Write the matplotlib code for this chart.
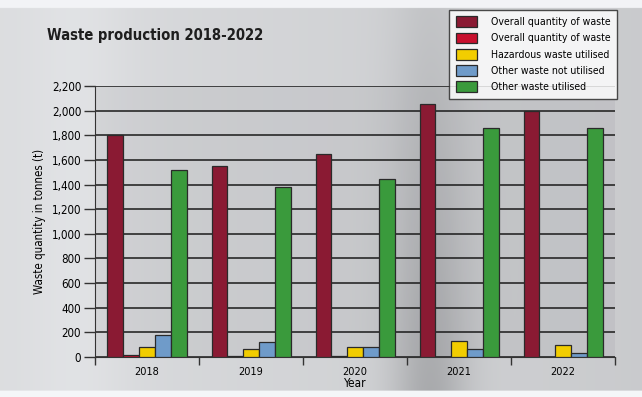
import numpy as np
import matplotlib.pyplot as plt
from matplotlib.ticker import FuncFormatter, FixedLocator

plt.rcParams['font.family'] = ['DejaVu Sans']
plt.rcParams['font.stretch'] = 'condensed'

years = ['2018', '2019', '2020', '2021', '2022']
series_names = ['Overall quantity of waste', 'Overall quantity of waste',
                'Hazardous waste utilised', 'Other waste not utilised',
                'Other waste utilised']
overall = [1800, 1550, 1650, 2050, 2000]
overall_other = [15, 12, 5, 3, 2]
hazardous_utilised = [85, 68, 82, 128, 100]
other_not_utilised = [180, 123, 82, 66, 35]
other_utilised = [1520, 1380, 1445, 1860, 1860]
colors = ['#8a1a33', '#c8102e', '#f2cd00', '#6f9bc9', '#3a9a3c']

fig = plt.figure(figsize=(6.42, 3.97), dpi=100)

# metallic backdrop: horizontal shading with a darker band in the middle
bg = fig.add_axes([0, 0, 1, 1], zorder=-10)
xs = np.linspace(0, 1, 400)
ys = np.linspace(0, 1, 250)
X, Y = np.meshgrid(xs, ys)
shade = 0.86 - 0.07 * X - 0.15 * np.exp(-((X - 0.67) / 0.06) ** 2) * (0.3 + 0.7 * Y)
shade += 0.03 * np.exp(-((X - 0.12) / 0.08) ** 2)
shade[ys > 0.985, :] = 0.96
shade[ys < 0.02, :] = 0.95
img = np.dstack([shade, shade + 0.005, shade + 0.015])
bg.imshow(np.clip(img, 0, 1), aspect='auto', extent=[0, 1, 0, 1], origin='upper')
bg.set_axis_off()

ax = fig.add_axes([0.148, 0.1008, 0.81, 0.6826])
ax.set_facecolor((0.5, 0.5, 0.52, 0.12))

data = [overall, overall_other, hazardous_utilised, other_not_utilised, other_utilised]
x = np.arange(len(years))
w = 0.152
for i, (vals, name, c) in enumerate(zip(data, series_names, colors)):
    ax.bar(x + (i - 2) * w, vals, width=w, color=c, edgecolor='#2a2a2a',
           linewidth=0.9, label=name, zorder=3)

ax.set_xlim(-0.5, len(years) - 0.5)
ax.set_ylim(0, 2200)
ax.set_yticks(np.arange(0, 2201, 200))
ax.yaxis.set_major_formatter(FuncFormatter(lambda v, p: f'{int(v):,}'))
ax.set_xticks(x)
ax.set_xticklabels(years)
ax.xaxis.set_minor_locator(FixedLocator(np.arange(-0.5, len(years), 1.0)))
ax.tick_params(axis='x', which='major', length=0, pad=7, labelsize=7.8)
ax.tick_params(axis='x', which='minor', length=6, width=1, color='#333333')
ax.tick_params(axis='y', length=8, width=1, color='#333333', labelsize=8.3, pad=2)
ax.grid(axis='y', color='#1a1a1a', linewidth=1.1, zorder=1)
ax.set_axisbelow(True)
for side in ['top', 'right']:
    ax.spines[side].set_visible(False)
ax.spines['left'].set_color('#333333')
ax.spines['bottom'].set_color('#333333')
ax.set_xlabel('Year', fontsize=8.5, labelpad=0)
ax.set_ylabel('Waste quantity in tonnes (t)', fontsize=8.3, labelpad=4)

fig.text(0.073, 0.91, 'Waste production 2018-2022', fontsize=10.6, fontweight='bold',
         color='#1e1e1e', va='center')

leg = fig.legend(loc='upper left', bbox_to_anchor=(0.7, 0.975), fontsize=7.6,
                 frameon=True, fancybox=False, edgecolor='#222222',
                 handlelength=2.0, handleheight=1.2, labelspacing=0.5,
                 borderpad=0.6, handletextpad=1.3, borderaxespad=0)
leg.get_frame().set_linewidth(1)
leg.get_frame().set_facecolor('white')

fig.savefig('out.png', dpi=100)
